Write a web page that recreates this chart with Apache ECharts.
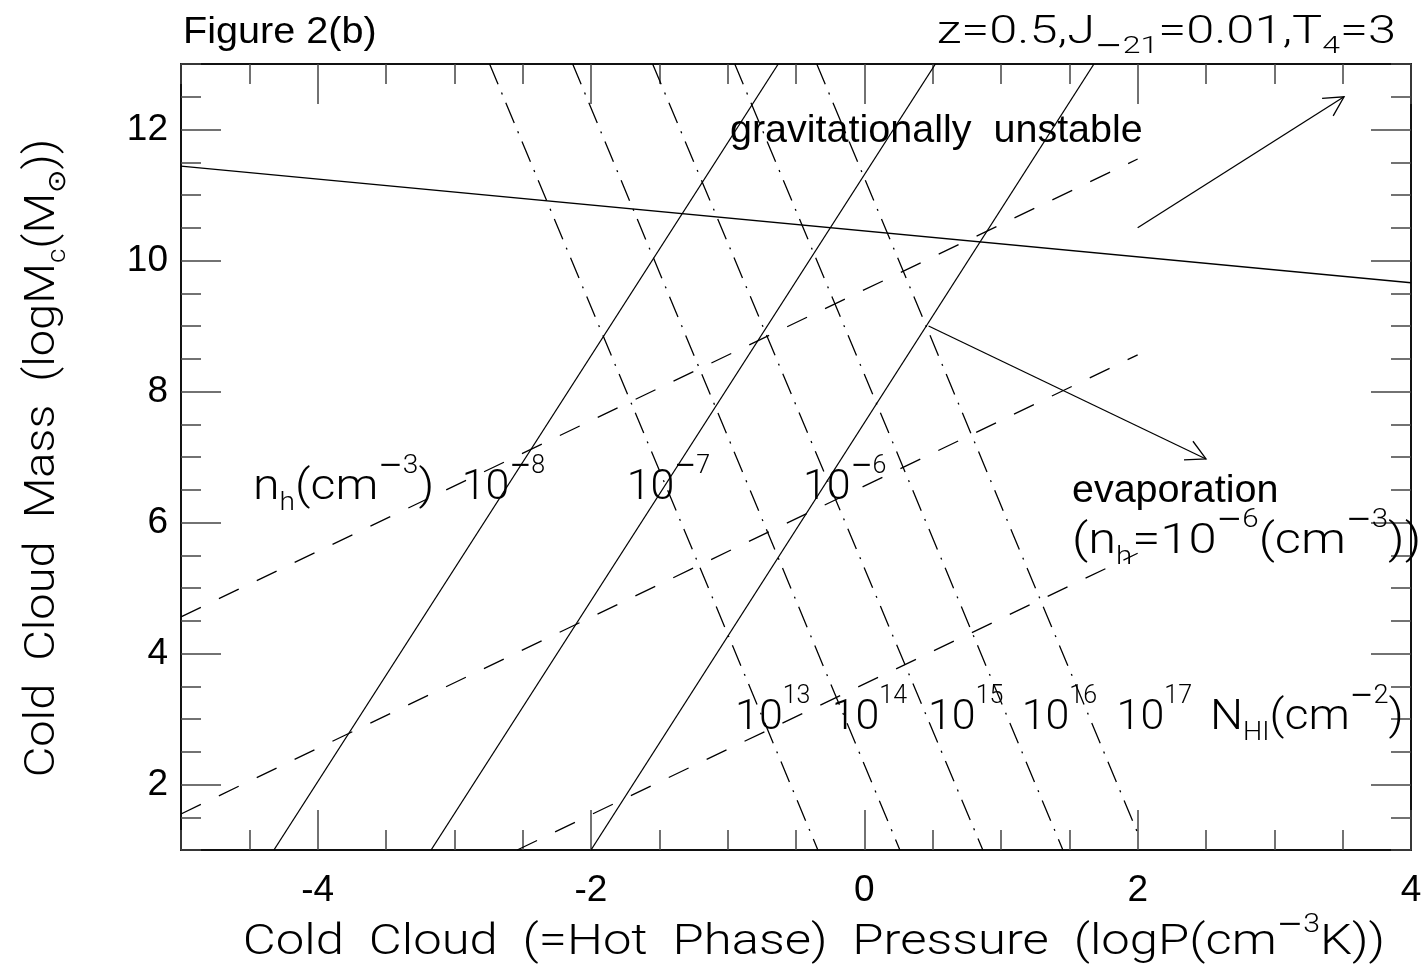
<!DOCTYPE html>
<html><head><meta charset="utf-8">
<script src="https://cdn.jsdelivr.net/npm/echarts@6/dist/echarts.min.js"></script>
<style>html,body{margin:0;padding:0;background:#fff}#c{width:1427px;height:975px}</style>
</head><body><div id="c"></div>
<script>
// ---------------- data ----------------
const xTickLabels = [-4, -2, 0, 2, 4];
const yTickLabels = [2, 4, 6, 8, 10, 12];
// gravitational instability limit (solid, nearly flat)
const gravLine = [[-5, 11.44], [4, 9.66]];
// constant hot-phase density lines n_h = 1e-8, 1e-7, 1e-6 (solid, steep)
const nhLines = [
  [[-4.32, 1], [-0.63, 13]],
  [[-3.17, 1], [0.52, 13]],
  [[-2.00, 1], [1.68, 13]]
];
// evaporation lines (dashed)
const evapLines = [
  [[-5, 4.56], [2, 11.55]],
  [[-5, 1.55], [2, 8.56]],
  [[-2.54, 1], [2, 5.53]]
];
// constant N_HI lines 1e13..1e17 (dash-dot)
const nhiLines = [
  [[-2.742, 13], [-0.34, 1]],
  [[-2.134, 13], [0.26, 1]],
  [[-1.549, 13], [0.867, 1]],
  [[-0.948, 13], [1.453, 1]],
  [[-0.348, 13], [2.0, 1.26]]
];
// arrows [x0, y0, x1, y1]
const arrows = [[2.0, 10.5, 3.51, 12.5], [0.47, 9.0, 2.5, 6.97]];
// annotation texts: [x, y (baseline, data units), text, font kind]
const annotations = [
  [-0.983, 11.763, '{a|gravitationally  unstable}', 'sans'],
  [1.519, 6.267, '{a|evaporation}', 'sans'],
  [1.519, 5.473, '{m|(n}{b|h}{m|=10}{n|−}{s|6}{m|(cm}{n|−}{s|3}{m|))}', 'stroke'],
  [-4.473, 6.298, '{m|n}{b|h}{m|(cm}{n|−}{s|3}{m|)}', 'stroke'],
  [-2.946, 6.298, '{m|10}{n|−}{s|8}', 'stroke'],
  [-1.739, 6.298, '{m|10}{n|−}{s|7}', 'stroke'],
  [-0.449, 6.298, '{m|10}{n|−}{s|6}', 'stroke'],
  [-0.946, 2.786, '{m|10}{s|13}', 'stroke'],
  [-0.239, 2.786, '{m|10}{s|14}', 'stroke'],
  [0.466, 2.786, '{m|10}{s|15}', 'stroke'],
  [1.151, 2.786, '{m|10}{s|16}', 'stroke'],
  [1.846, 2.786, '{m|10}{s|17}', 'stroke'],
  [2.529, 2.786, '{m|N}{b|HI}{m|(cm}{n|−}{s|2}{m|)}', 'stroke']
];
const titleLeft = '{a|Figure 2(b)}';
const titleRight = '{m|z=0.5,J}{o|−}{b|21}{m|=0.01,T}{b|4}{m|=3}';
const xName = '{m|Cold  Cloud  (=Hot  Phase)  Pressure  (logP(cm}{n|−}{s|3}{m|K))}';
const yName = '{m|Cold  Cloud  Mass  (logM}{b|c}{m|(M}{b|⊙}{m|))}';

// ---------------- styles ----------------
const STROKE = 'Roboto, "DejaVu Sans", sans-serif';
const SANS = '"Liberation Sans", Arial, sans-serif';
const MINUS = '"DejaVu Sans", sans-serif';
const LH = 60, K = 0.345;
function richSet(fsMain, fsSmall, supUp, subDown, fsSans) {
  const B = LH / 2 + K * fsMain;
  const Bs = LH / 2 + K * fsSans;
  const fsMinus = fsSmall + 1;
  const hs = Math.max(2, 2 * (B - supUp - K * fsSmall));
  const hn = Math.max(2, 2 * (B - supUp - K * fsMinus));
  const hb = Math.max(2, 2 * (LH + K * fsSmall - B - subDown));
  const ho = Math.max(2, 2 * (LH + K * fsMinus - B - subDown));
  return {
    base: B, baseSans: Bs,
    rich: {
      m: {fontFamily: STROKE, fontWeight: 300, fontSize: fsMain, lineHeight: LH, height: LH, verticalAlign: 'middle', fill: '#000'},
      s: {fontFamily: STROKE, fontWeight: 300, fontSize: fsSmall, lineHeight: hs, height: hs, verticalAlign: 'top', fill: '#000'},
      n: {fontFamily: MINUS, fontWeight: 'normal', fontSize: fsMinus, lineHeight: hn, height: hn, verticalAlign: 'top', fill: '#000'},
      b: {fontFamily: STROKE, fontWeight: 300, fontSize: fsSmall, lineHeight: hb, height: hb, verticalAlign: 'bottom', fill: '#000'},
      o: {fontFamily: MINUS, fontWeight: 'normal', fontSize: fsMinus, lineHeight: ho, height: ho, verticalAlign: 'bottom', fill: '#000'},
      a: {fontFamily: SANS, fontSize: fsSans, lineHeight: LH, height: LH, verticalAlign: 'middle', fill: '#000'}
    }
  };
}
const annRich = richSet(43, 25, 28, 9, 39.5);
const titleRich = richSet(38, 24, 20, 8, 36);
const nameRich = richSet(42, 25, 24, 9, 40);
// horizontal stretch of the wide plotter font, by annotation index
const annStretch = {2: 1.18, 3: 1.125, 12: 1.085};

const chart = echarts.init(document.getElementById('c'), null, {renderer: 'canvas'});

const lineSeries = [];
function addLine(pts, type) {
  lineSeries.push({
    type: 'line', data: pts, symbol: 'none', silent: true, animation: false,
    xAxisIndex: 0, yAxisIndex: 0,
    lineStyle: {color: '#000', width: 1.3, type: type}
  });
}
addLine(gravLine, 'solid');
nhLines.forEach(l => addLine(l, 'solid'));
evapLines.forEach(l => addLine(l, [22, 20]));
nhiLines.forEach(l => addLine(l, [22, 9, 2, 9]));

const tickStyle = {color: '#444', width: 1.5};
const axisLineStyle = {color: '#111', width: 2};
const tickFont = {fontSize: 37, fontFamily: SANS, color: '#000'};
function xAx(pos, major) {
  const o = {
    type: 'value', min: -5, max: 4, position: pos,
    splitLine: {show: false},
    axisLine: {show: !major, onZero: false, lineStyle: axisLineStyle},
    axisTick: {show: true, inside: true, length: major ? 40 : 20, lineStyle: tickStyle},
    axisLabel: {show: false}
  };
  if (major) {
    o.axisTick.customValues = xTickLabels;
    if (pos === 'bottom') {
      o.axisLabel = Object.assign({show: true, customValues: xTickLabels, margin: 22}, tickFont);
    }
  } else {
    o.interval = 0.5;
  }
  return o;
}
function yAx(pos, major) {
  const o = {
    type: 'value', min: 1, max: 13, position: pos,
    splitLine: {show: false},
    axisLine: {show: !major, onZero: false, lineStyle: axisLineStyle},
    axisTick: {show: true, inside: true, length: major ? 40 : 20, lineStyle: tickStyle},
    axisLabel: {show: false}
  };
  if (major) {
    o.axisTick.customValues = yTickLabels;
    if (pos === 'left') {
      o.axisLabel = Object.assign({show: true, customValues: yTickLabels, margin: 13}, tickFont);
    }
  } else {
    o.interval = 0.5;
  }
  return o;
}

const option = {
  animation: false,
  backgroundColor: '#fff',
  grid: {left: 181, top: 64, width: 1230, height: 786, containLabel: false},
  xAxis: [xAx('bottom', false), xAx('bottom', true), xAx('top', false), xAx('top', true)],
  yAxis: [yAx('left', false), yAx('left', true), yAx('right', false), yAx('right', true)],
  series: lineSeries.concat([
    {
      type: 'custom', coordinateSystem: 'cartesian2d', xAxisIndex: 0, yAxisIndex: 0,
      silent: true, clip: false, animation: false,
      data: arrows, encode: {x: [0, 2], y: [1, 3]},
      renderItem: function (params, api) {
        const a = api.coord([api.value(0), api.value(1)]);
        const b = api.coord([api.value(2), api.value(3)]);
        const ang = Math.atan2(b[1] - a[1], b[0] - a[0]);
        const hl = 22, ha = 28 * Math.PI / 180;
        const p1 = [b[0] - hl * Math.cos(ang - ha), b[1] - hl * Math.sin(ang - ha)];
        const p2 = [b[0] - hl * Math.cos(ang + ha), b[1] - hl * Math.sin(ang + ha)];
        return {type: 'group', children: [
          {type: 'polyline', shape: {points: [a, b]}, style: {stroke: '#000', lineWidth: 1.3, fill: null}},
          {type: 'polyline', shape: {points: [p1, b, p2]}, style: {stroke: '#000', lineWidth: 1.3, fill: null}}
        ]};
      }
    },
    {
      type: 'custom', coordinateSystem: 'cartesian2d', xAxisIndex: 0, yAxisIndex: 0,
      silent: true, clip: false, animation: false,
      data: annotations.map((a, i) => [a[0], a[1], i]), encode: {x: 0, y: 1},
      renderItem: function (params, api) {
        const i = api.value(2);
        const ann = annotations[i];
        const p = api.coord([api.value(0), api.value(1)]);
        const off = ann[3] === 'sans' ? annRich.baseSans : annRich.base;
        const sx = annStretch[i] || 1;
        return {type: 'text', x: p[0], y: p[1] - off, scaleX: sx, scaleY: 1,
          style: {text: ann[2], rich: annRich.rich, align: 'left', verticalAlign: 'top', fill: '#000'}};
      }
    }
  ]),
  graphic: [
    {type: 'text', x: 183, y: 45 - titleRich.baseSans, scaleX: 1.1, silent: true,
      style: {text: titleLeft, rich: titleRich.rich, align: 'left', verticalAlign: 'top'}},
    {type: 'text', x: 1396, y: 47 - titleRich.base, scaleX: 1.33, silent: true,
      style: {text: titleRight, rich: titleRich.rich, align: 'right', verticalAlign: 'top'}},
    {type: 'text', x: 814, y: 958 - nameRich.base, scaleX: 1.21, silent: true,
      style: {text: xName, rich: nameRich.rich, align: 'center', verticalAlign: 'top'}},
    {type: 'text', x: 58 - nameRich.base, y: 458, rotation: Math.PI / 2, scaleX: 1.12, silent: true,
      style: {text: yName, rich: nameRich.rich, align: 'center', verticalAlign: 'top'}}
  ]
};
chart.setOption(option);
</script>
</body></html>
